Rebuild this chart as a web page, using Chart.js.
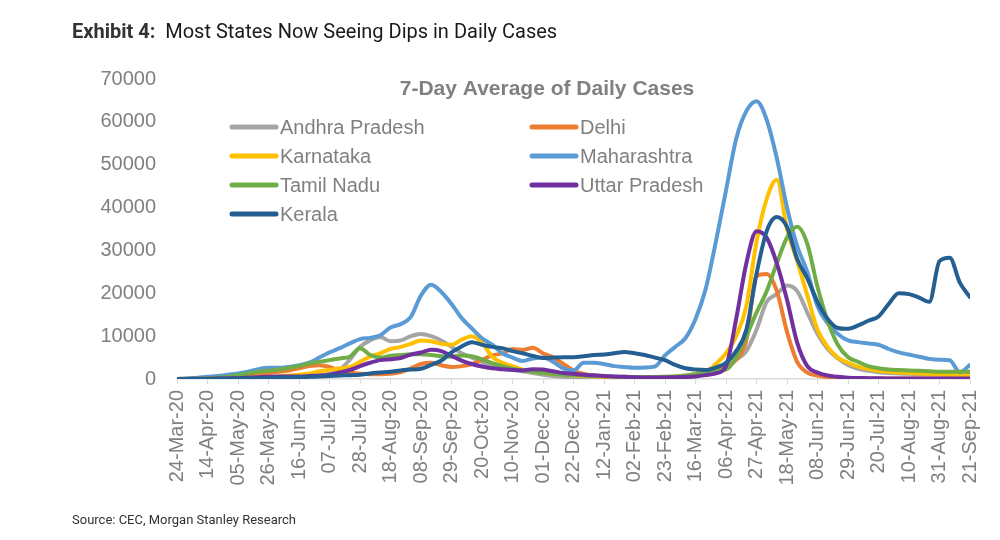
<!DOCTYPE html>
<html>
<head>
<meta charset="utf-8">
<script src="https://cdn.jsdelivr.net/npm/chart.js@4.4.0/dist/chart.umd.min.js"></script>
<style>
    body { margin: 0; background: #fff; }
    #wrap { position: relative; width: 1000px; height: 540px; }
    #heading { position: absolute; left: 72px; top: 19px; font-family: Roboto, sans-serif; font-size: 20px; color: #1a1a1a; white-space: pre; }
    #heading b { color: #333; }
    #source { position: absolute; left: 72px; top: 512px; font-family: Roboto, sans-serif; font-size: 13px; color: #333; }
    canvas { position: absolute; left: 0; top: 0; }
</style>
</head>
<body>
<div id="wrap">
    <canvas id="casesChart" width="1000" height="540"></canvas>
    <div id="heading"><b>Exhibit 4:</b>  Most States Now Seeing Dips in Daily Cases</div>
    <div id="source">Source: CEC, Morgan Stanley Research</div>
</div>
<script>
// weekly samples, week 0 = 24-Mar-20, week 78 = 21-Sep-21
const tickLabels = ['24-Mar-20', '14-Apr-20', '05-May-20', '26-May-20', '16-Jun-20', '07-Jul-20', '28-Jul-20',
    '18-Aug-20', '08-Sep-20', '29-Sep-20', '20-Oct-20', '10-Nov-20', '01-Dec-20', '22-Dec-20', '12-Jan-21',
    '02-Feb-21', '23-Feb-21', '16-Mar-21', '06-Apr-21', '27-Apr-21', '18-May-21', '08-Jun-21', '29-Jun-21',
    '20-Jul-21', '10-Aug-21', '31-Aug-21', '21-Sep-21'];

const andhraPradesh = [0, 10, 30, 50, 60, 60, 70, 80, 100, 150,
    200, 300, 400, 600, 800, 1300, 2200, 4500, 7500, 9000,
    9800, 8800, 9000, 10000, 10500, 10000, 9000, 7500, 6000, 5000,
    4000, 3200, 2800, 2200, 1800, 1400, 1000, 700, 500, 400,
    300, 250, 200, 150, 120, 100, 100, 120, 150, 300,
    500, 800, 1200, 2000, 3000, 4500, 6500, 11500, 18000, 19800,
    21800, 20500, 15500, 10500, 7000, 4800, 3300, 2400, 1900, 1600,
    1400, 1300, 1200, 1100, 1100, 1100, 1000, 1000, 900];

const delhi = [0, 30, 60, 100, 200, 300, 400, 600, 1000, 1300,
    1700, 2000, 2500, 3000, 3200, 2800, 2000, 1500, 1200, 1100,
    1100, 1200, 1600, 2500, 3500, 3800, 3200, 2800, 3000, 3500,
    4500, 5500, 6000, 7000, 6800, 7300, 6000, 5000, 3500, 2000,
    1200, 800, 600, 400, 250, 200, 150, 150, 200, 250,
    400, 800, 1200, 2000, 2800, 4500, 9000, 24000, 24500, 20500,
    11000, 4000, 1500, 800, 400, 300, 200, 150, 100, 100,
    100, 100, 100, 100, 100, 100, 100, 100, 100];

const karnataka = [0, 10, 20, 40, 80, 100, 150, 200, 300, 400,
    600, 800, 1000, 1300, 1800, 2100, 2500, 2800, 4000, 5200,
    6000, 7000, 7500, 8200, 9000, 8800, 8200, 8000, 9200, 10000,
    8500, 5200, 3800, 3000, 2200, 1800, 1400, 1200, 1000, 800,
    700, 600, 500, 450, 400, 400, 400, 450, 500, 600,
    800, 1200, 1600, 3500, 6000, 10000, 17000, 32000, 42000, 46500,
    35000, 27500, 19500, 11500, 7500, 5000, 3800, 2900, 2300, 1900,
    1700, 1500, 1400, 1300, 1200, 1100, 1000, 900, 900];

const maharashtra = [0, 100, 300, 500, 700, 1000, 1300, 1700, 2300, 2600,
    2600, 2800, 3200, 3800, 5000, 6200, 7200, 8300, 9300, 9600,
    10200, 12000, 12800, 14500, 19500, 22000, 20300, 17500, 14200, 11800,
    9500, 8000, 6000, 5000, 4200, 4800, 5000, 4000, 2500, 2000,
    3800, 3800, 3500, 3000, 2800, 2600, 2700, 2900, 5500, 7500,
    9500, 14000, 21000, 32000, 44000, 56000, 62500, 64800, 60500, 51500,
    40000, 31000, 25000, 17000, 13000, 10500, 9000, 8600, 8300, 8000,
    7000, 6200, 5700, 5200, 4700, 4500, 4400, 1600, 3300];

const tamilNadu = [0, 50, 100, 200, 300, 500, 900, 1300, 1700, 1900,
    2200, 2600, 3000, 3600, 4000, 4400, 4800, 5200, 7200, 5600,
    5000, 5400, 5600, 5800, 5800, 5600, 5300, 5200, 5500, 5300,
    4600, 3700, 3000, 2400, 2000, 1700, 1400, 1200, 1000, 900,
    800, 700, 650, 550, 500, 480, 470, 480, 500, 600,
    800, 1100, 1500, 2000, 2200, 5000, 10000, 15500, 20500, 27000,
    33000, 35500, 31500, 21500, 13500, 8000, 5100, 4000, 3000, 2500,
    2200, 2100, 2000, 1900, 1800, 1700, 1700, 1700, 1700];

const uttarPradesh = [0, 10, 30, 60, 100, 150, 200, 300, 400, 500,
    600, 600, 600, 700, 800, 1000, 1500, 2100, 3000, 3800,
    4400, 4600, 4900, 5700, 6200, 6800, 6500, 5400, 4300, 3500,
    2900, 2500, 2300, 2100, 2000, 2300, 2200, 1800, 1400, 1200,
    1000, 850, 700, 600, 500, 400, 350, 350, 350, 400,
    450, 600, 900, 1300, 3000, 14000, 27000, 34500, 33000, 27000,
    18500, 8500, 3000, 1500, 800, 500, 300, 250, 200, 150,
    120, 100, 100, 100, 100, 100, 100, 100, 100];

const kerala = [0, 0, 0, 0, 50, 80, 100, 150, 200, 250,
    300, 350, 400, 500, 600, 700, 800, 900, 1000, 1300,
    1500, 1700, 2000, 2200, 2400, 3300, 4300, 6200, 7600, 8600,
    8000, 7500, 7200, 6500, 6000, 5400, 4900, 5000, 5100, 5100,
    5300, 5600, 5700, 6000, 6300, 6000, 5600, 5000, 4400, 3300,
    2500, 2200, 2100, 2700, 3800, 6500, 11500, 24500, 34500, 37800,
    35500, 28000, 23500, 18000, 14000, 11900, 11700, 12500, 13600, 14600,
    17500, 20000, 19800, 19000, 18000, 27500, 28300, 22500, 19100];

const seriesNames = ['Andhra Pradesh', 'Delhi', 'Karnataka', 'Maharashtra', 'Tamil Nadu', 'Uttar Pradesh', 'Kerala'];
const seriesValues = [andhraPradesh, delhi, karnataka, maharashtra, tamilNadu, uttarPradesh, kerala];
const seriesColors = ['#A5A5A5', '#ED7D31', '#FFC000', '#5B9BD5', '#70AD47', '#7030A0', '#255E91'];

const FONT = "'Liberation Sans', Arial, sans-serif";
const GREY = '#808080';

// title and two-column legend sit inside the plot, like the Excel original
const overlayPlugin = {
    id: 'overlay',
    afterDraw(chart) {
        const ctx = chart.ctx;
        const area = chart.chartArea;
        ctx.save();

        ctx.fillStyle = GREY;
        ctx.font = 'bold 21px ' + FONT;
        ctx.textAlign = 'center';
        ctx.textBaseline = 'middle';
        ctx.fillText('7-Day Average of Daily Cases', area.left + 370, area.top + 10);

        ctx.font = '20px ' + FONT;
        ctx.textAlign = 'left';
        chart.data.datasets.forEach((ds, i) => {
            const col = i % 2;
            const row = Math.floor(i / 2);
            const x = area.left + 53 + col * 300;
            const y = area.top + 48 + row * 29;
            ctx.strokeStyle = ds.borderColor;
            ctx.lineWidth = 5;
            ctx.lineCap = 'round';
            ctx.beginPath();
            ctx.moveTo(x + 2, y);
            ctx.lineTo(x + 46, y);
            ctx.stroke();
            ctx.fillStyle = GREY;
            ctx.fillText(ds.label, x + 50, y + 1);
        });
        ctx.restore();
    }
};

const datasets = seriesNames.map((name, i) => ({
    label: name,
    data: seriesValues[i].map((v, w) => ({ x: w, y: v })),
    borderColor: seriesColors[i],
    backgroundColor: seriesColors[i],
    borderWidth: 4,
    pointRadius: 0,
    fill: false,
    cubicInterpolationMode: 'monotone',
    borderJoinStyle: 'round',
    borderCapStyle: 'round',
    order: seriesNames.length - i
}));

const ctx = document.getElementById('casesChart').getContext('2d');
new Chart(ctx, {
    type: 'line',
    data: { datasets: datasets },
    plugins: [overlayPlugin],
    options: {
        responsive: false,
        animation: false,
        devicePixelRatio: 1,
        layout: { padding: { top: 79, right: 27, left: 0, bottom: 0 } },
        plugins: {
            legend: { display: false },
            title: { display: false },
            tooltip: { enabled: false }
        },
        scales: {
            x: {
                type: 'linear',
                min: 0,
                max: 78,
                afterFit: scale => { scale.height = 161; },
                ticks: {
                    stepSize: 3,
                    autoSkip: false,
                    minRotation: 90,
                    maxRotation: 90,
                    padding: 6,
                    color: GREY,
                    font: { family: FONT, size: 20 },
                    callback: value => tickLabels[value / 3]
                },
                grid: {
                    display: true,
                    drawOnChartArea: false,
                    tickLength: 5,
                    color: '#d9d9d9'
                },
                border: { display: true, color: '#d9d9d9', width: 1.5 }
            },
            y: {
                min: 0,
                max: 70000,
                afterFit: scale => { scale.width = 177; },
                ticks: {
                    stepSize: 10000,
                    padding: 13,
                    color: GREY,
                    font: { family: FONT, size: 20 },
                    callback: value => String(value)
                },
                grid: { display: false },
                border: { display: false }
            }
        }
    }
});
</script>
</body>
</html>
